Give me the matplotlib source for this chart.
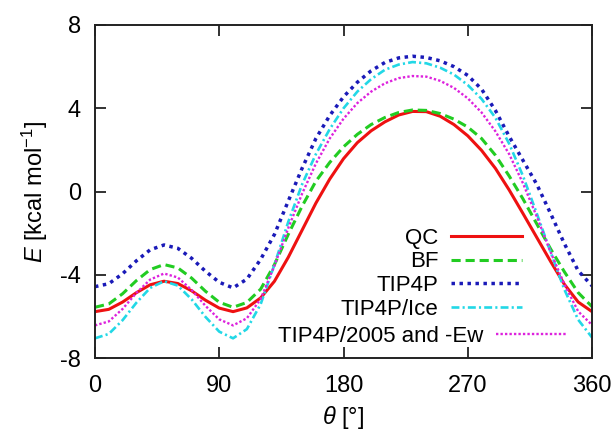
import matplotlib
matplotlib.use("Agg")
import matplotlib.pyplot as plt

plt.rcParams['font.family'] = ['Liberation Sans', 'DejaVu Sans']
plt.rcParams['mathtext.fontset'] = 'custom'
plt.rcParams['mathtext.rm'] = 'Liberation Sans'
plt.rcParams['mathtext.it'] = 'Liberation Sans:italic'
plt.rcParams['axes.unicode_minus'] = False

theta = list(range(0, 361, 10))

qc = [-5.76, -5.65, -5.30, -4.85, -4.47, -4.30, -4.41, -4.76, -5.21, -5.59,
      -5.76, -5.58, -5.10, -4.30, -3.15, -1.85, -0.55, 0.60, 1.58, 2.35,
      2.92, 3.35, 3.68, 3.85, 3.84, 3.62, 3.22, 2.68, 1.98, 1.12,
      0.08, -1.05, -2.20, -3.35, -4.45, -5.30, -5.76]

bf = [-5.55, -5.39, -4.90, -4.27, -3.74, -3.50, -3.66, -4.15, -4.78, -5.31,
      -5.55, -5.32, -4.68, -3.50, -2.05, -0.70, 0.50, 1.40, 2.15, 2.75,
      3.22, 3.56, 3.80, 3.92, 3.90, 3.75, 3.48, 3.10, 2.55, 1.75,
      0.75, -0.35, -1.55, -2.75, -3.85, -4.85, -5.52]

tip4p = [-4.56, -4.42, -3.94, -3.32, -2.79, -2.56, -2.72, -3.20, -3.82, -4.35,
         -4.62, -4.20, -3.25, -2.05, -0.45, 1.12, 2.55, 3.65, 4.55, 5.25,
         5.80, 6.20, 6.42, 6.50, 6.44, 6.28, 6.00, 5.58, 4.92, 3.90,
         2.65, 1.50, 0.35, -1.05, -2.50, -3.80, -4.52]

tip4p_ice = [-7.04, -6.83, -6.17, -5.33, -4.62, -4.30, -4.51, -5.17, -6.01, -6.72,
             -7.04, -6.60, -5.40, -3.50, -1.45, 0.35, 1.80, 3.00, 4.00, 4.80,
             5.40, 5.85, 6.10, 6.22, 6.16, 5.95, 5.62, 5.12, 4.45, 3.55,
             2.30, 0.75, -1.05, -2.90, -4.70, -6.15, -7.00]

tip4p2005 = [-6.42, -6.23, -5.63, -4.86, -4.22, -3.93, -4.12, -4.72, -5.48, -6.13,
             -6.42, -6.08, -5.15, -3.55, -1.75, -0.10, 1.35, 2.55, 3.50, 4.25,
             4.80, 5.20, 5.45, 5.55, 5.52, 5.32, 4.98, 4.48, 3.80, 2.90,
             1.80, 0.40, -1.20, -2.90, -4.45, -5.75, -6.40]

labels = ["QC", "BF", "TIP4P", "TIP4P/Ice", "TIP4P/2005 and -Ew"]
xticks = [0, 90, 180, 270, 360]
yticks = [-8, -4, 0, 4, 8]

fig = plt.figure(figsize=(6.14, 4.33), dpi=100)
ax = fig.add_axes([0.1547, 0.1725, 0.8095, 0.7698])

l1, = ax.plot(theta, qc, color='#ee1111', lw=2.2, ls='-')
l2, = ax.plot(theta, bf, color='#22cc22', lw=2.2, ls=(0, (3, 1.6)))
l3, = ax.plot(theta, tip4p, color='#1a1ab8', lw=2.5, ls=(0, (1, 1.3)))
l4, = ax.plot(theta, tip4p_ice, color='#22d8e6', lw=1.9, ls=(0, (3, 1.2, 0.8, 1.2)))
l5, = ax.plot(theta, tip4p2005, color='#dd22dd', lw=1.7, ls=(0, (1, 0.9)))

ax.set_xlim(0, 360)
ax.set_ylim(-8, 8)
ax.set_xticks(xticks)
ax.set_yticks(yticks)
ax.tick_params(direction='in', length=8, width=1.3, top=True, right=True,
               labelsize=17, color='#222222')
ax.tick_params(axis='y', pad=10)
ax.tick_params(axis='x', pad=12)
for s in ax.spines.values():
    s.set_linewidth(1.4)
    s.set_color('#222222')

ax.set_xlabel(r"$\theta$ [°]", fontsize=17, labelpad=5)
ax.set_ylabel(r"$E$ [kcal mol$^{-1}$]", fontsize=17, labelpad=7)

leg1 = ax.legend([l1, l2, l3, l4], labels[:4], loc='upper right',
                 bbox_to_anchor=(0.859, 0.392), frameon=False, markerfirst=False,
                 fontsize=16, handlelength=3.2, handletextpad=0.55,
                 labelspacing=0.125, borderpad=0, borderaxespad=0)
ax.add_artist(leg1)
ax.legend([l5], labels[4:], loc='center right', bbox_to_anchor=(0.950, 0.066),
          frameon=False, markerfirst=False, fontsize=16, handlelength=3.2,
          handletextpad=0.55, borderpad=0, borderaxespad=0)

fig.savefig("out.png", dpi=100)
